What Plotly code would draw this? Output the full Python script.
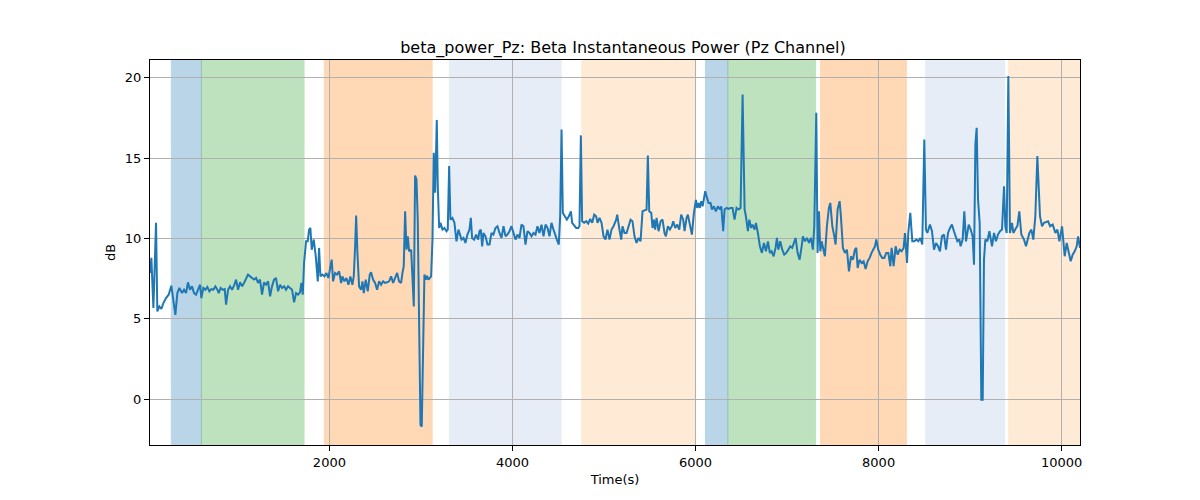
import plotly.graph_objects as go

# ---- data ----
time_s = [
    40, 55, 77, 106, 120, 142, 164, 186, 215, 244, 273, 295, 317, 339, 361, 390, 412, 434, 455, 477,
    499, 521, 543, 565, 587, 601, 623, 645, 667, 689, 710, 732, 754, 776, 791, 812, 834, 856, 871, 893,
    914, 936, 958, 980, 1002, 1024, 1046, 1067, 1089, 1111, 1133, 1155, 1177, 1199, 1220, 1242, 1264, 1286, 1308, 1330,
    1352, 1373, 1395, 1417, 1439, 1461, 1483, 1505, 1526, 1548, 1570, 1592, 1614, 1636, 1658, 1679, 1694, 1709, 1723, 1745,
    1763, 1778, 1792, 1807, 1829, 1851, 1873, 1887, 1902, 1924, 1945, 1967, 1989, 2011, 2025, 2040, 2062, 2084, 2106, 2128,
    2142, 2164, 2186, 2208, 2229, 2251, 2266, 2281, 2292, 2306, 2324, 2346, 2361, 2375, 2397, 2419, 2441, 2455, 2477, 2499,
    2521, 2543, 2565, 2587, 2608, 2630, 2652, 2674, 2696, 2718, 2740, 2761, 2783, 2798, 2812, 2827, 2842, 2856, 2871, 2893,
    2907, 2922, 2936, 2951, 2965, 2980, 2995, 3009, 3024, 3038, 3053, 3067, 3082, 3097, 3111, 3126, 3140, 3155, 3173, 3184,
    3199, 3213, 3235, 3257, 3279, 3293, 3308, 3322, 3344, 3366, 3388, 3410, 3443, 3465, 3486, 3508, 3530, 3545, 3559, 3581,
    3603, 3625, 3639, 3654, 3669, 3683, 3705, 3727, 3749, 3771, 3792, 3814, 3836, 3858, 3880, 3902, 3924, 3945, 3967, 3989,
    4011, 4033, 4055, 4077, 4098, 4120, 4142, 4164, 4186, 4208, 4230, 4251, 4273, 4295, 4317, 4339, 4361, 4383, 4404, 4426,
    4448, 4470, 4485, 4506, 4521, 4536, 4550, 4572, 4594, 4616, 4638, 4652, 4674, 4696, 4718, 4732, 4747, 4761, 4783, 4805,
    4827, 4849, 4871, 4893, 4914, 4929, 4951, 4973, 4995, 5016, 5038, 5060, 5082, 5104, 5133, 5144, 5166, 5188, 5202, 5224,
    5246, 5268, 5290, 5311, 5333, 5355, 5377, 5399, 5421, 5443, 5465, 5479, 5494, 5516, 5530, 5545, 5559, 5574, 5596, 5618,
    5639, 5661, 5676, 5698, 5720, 5741, 5756, 5778, 5800, 5822, 5843, 5865, 5880, 5902, 5916, 5938, 5960, 5982, 6004, 6018,
    6033, 6047, 6062, 6077, 6091, 6106, 6120, 6142, 6164, 6179, 6200, 6222, 6244, 6266, 6281, 6302, 6317, 6339, 6361, 6383,
    6404, 6426, 6448, 6470, 6492, 6514, 6536, 6550, 6572, 6587, 6608, 6623, 6645, 6660, 6681, 6703, 6725, 6747, 6769, 6791,
    6812, 6831, 6853, 6874, 6889, 6904, 6925, 6947, 6969, 6991, 7013, 7035, 7056, 7071, 7093, 7115, 7137, 7159, 7173, 7195,
    7217, 7239, 7261, 7282, 7297, 7319, 7333, 7348, 7363, 7377, 7399, 7413, 7435, 7457, 7472, 7494, 7516, 7530, 7552, 7574,
    7588, 7610, 7632, 7654, 7676, 7698, 7720, 7741, 7756, 7771, 7792, 7814, 7836, 7858, 7880, 7902, 7923, 7945, 7960, 7975,
    7996, 8018, 8040, 8062, 8084, 8106, 8128, 8142, 8164, 8186, 8208, 8230, 8251, 8273, 8288, 8310, 8324, 8346, 8368, 8390,
    8412, 8434, 8456, 8477, 8499, 8517, 8532, 8561, 8583, 8605, 8627, 8649, 8670, 8692, 8714, 8736, 8758, 8780, 8801, 8823,
    8838, 8860, 8882, 8896, 8918, 8936, 8955, 8984, 9006, 9027, 9042, 9057, 9071, 9086, 9104, 9122, 9137, 9151, 9166, 9188,
    9210, 9239, 9261, 9282, 9304, 9326, 9348, 9370, 9384, 9399, 9417, 9435, 9457, 9472, 9501, 9516, 9537, 9559, 9588, 9610,
    9647, 9669, 9690, 9712, 9734, 9763, 9785, 9807, 9851, 9873, 9902, 9931, 9953, 9975, 10004, 10033, 10055, 10077, 10098, 10120,
    10142, 10164, 10179, 10200,
]
beta_db = [
    7.85, 8.79, 5.67, 10.97, 5.46, 5.77, 5.61, 5.98, 6.29, 6.50, 7.06, 6.23, 5.25, 6.60, 6.92, 6.60, 6.81, 6.60, 7.27, 6.81,
    7.02, 6.60, 6.50, 6.81, 7.12, 6.29, 6.92, 6.81, 6.98, 6.71, 6.85, 6.81, 7.02, 6.81, 6.60, 6.92, 6.81, 6.85, 5.88, 6.81,
    7.02, 6.81, 7.06, 7.44, 6.81, 7.27, 7.02, 7.23, 7.54, 7.75, 7.64, 7.54, 7.44, 7.54, 7.23, 7.44, 6.50, 7.27, 7.12, 7.33,
    6.40, 7.02, 7.44, 7.54, 6.71, 7.12, 6.92, 7.02, 6.81, 7.02, 6.92, 6.81, 6.02, 6.60, 6.50, 6.65, 7.23, 6.50, 8.47, 9.82,
    9.82, 10.55, 10.65, 9.30, 9.93, 8.89, 7.33, 9.41, 7.64, 7.75, 7.64, 7.85, 7.54, 8.27, 8.68, 7.33, 7.85, 7.75, 7.95, 7.23,
    7.64, 7.33, 7.54, 7.12, 7.64, 7.12, 7.64, 9.51, 11.42, 9.10, 7.02, 6.81, 7.33, 6.60, 7.44, 6.71, 7.75, 7.89, 7.44, 7.23,
    6.81, 7.33, 7.12, 7.33, 7.23, 7.27, 7.33, 7.64, 7.23, 7.54, 7.85, 7.33, 7.23, 7.85, 8.27, 11.69, 9.30, 10.13, 9.20, 9.30,
    7.85, 5.77, 13.91, 13.67, 11.17, 5.36, -1.60, -1.70, 2.87, 7.75, 7.44, 7.68, 7.44, 7.54, 7.64, 9.93, 15.33, 12.84, 17.36, 13.25,
    10.65, 10.97, 10.55, 10.65, 10.45, 10.55, 14.50, 11.17, 11.28, 10.97, 9.82, 10.55, 9.93, 10.03, 9.72, 10.24, 10.55, 11.28, 10.03, 9.93,
    10.24, 9.93, 10.45, 10.55, 9.51, 10.34, 10.13, 9.62, 9.62, 10.34, 10.24, 10.65, 10.76, 10.34, 10.03, 10.76, 10.13, 10.24, 10.45, 10.76,
    10.34, 9.93, 10.24, 10.03, 10.86, 10.76, 9.62, 10.45, 10.34, 10.13, 10.34, 10.24, 10.76, 10.34, 10.86, 10.13, 10.86, 10.65, 10.13, 10.97,
    10.55, 10.13, 9.93, 9.62, 11.38, 16.78, 11.59, 11.38, 11.17, 11.38, 11.69, 10.97, 10.80, 10.65, 10.65, 10.76, 16.41, 11.07, 10.97, 11.07,
    10.92, 11.21, 10.97, 11.48, 11.38, 10.97, 11.28, 10.97, 10.13, 9.93, 10.55, 9.93, 10.55, 10.76, 11.17, 11.48, 10.65, 9.93, 10.76, 10.34,
    10.34, 10.76, 11.17, 11.07, 10.13, 9.72, 10.03, 9.82, 11.69, 11.75, 11.80, 15.16, 11.69, 11.59, 10.65, 11.17, 10.55, 11.28, 10.45, 11.07,
    11.17, 10.34, 10.13, 10.76, 10.55, 10.76, 11.07, 10.65, 10.86, 10.55, 11.48, 11.17, 10.45, 11.28, 11.48, 10.86, 10.24, 11.59, 12.40, 11.90,
    12.21, 11.90, 12.32, 12.00, 12.42, 12.94, 12.63, 12.21, 12.21, 11.80, 12.00, 11.69, 12.00, 11.80, 12.00, 10.45, 11.80, 11.90, 11.84, 11.90,
    11.90, 11.17, 11.90, 11.80, 11.90, 18.95, 11.80, 11.38, 10.45, 11.17, 10.65, 10.86, 10.55, 10.97, 10.34, 9.51, 9.10, 9.72, 9.20, 9.82,
    9.10, 9.20, 8.89, 9.41, 10.03, 9.30, 9.82, 9.30, 8.99, 9.10, 9.30, 9.51, 9.41, 9.72, 10.03, 9.10, 8.68, 9.51, 10.13, 9.82,
    10.03, 9.72, 10.03, 9.30, 10.76, 17.82, 9.10, 11.69, 9.20, 9.82, 9.10, 8.89, 10.76, 11.90, 12.21, 10.76, 10.13, 9.62, 11.80, 12.32,
    11.38, 9.41, 9.10, 9.30, 7.95, 8.89, 8.68, 9.30, 9.41, 8.16, 8.68, 8.47, 8.58, 8.10, 8.58, 8.79, 9.10, 9.30, 9.51, 9.93,
    9.30, 8.99, 8.79, 8.79, 9.10, 9.10, 8.27, 9.41, 8.27, 9.51, 8.99, 9.30, 9.20, 9.41, 10.34, 8.47, 10.34, 11.59, 9.82, 9.82,
    9.93, 9.82, 10.03, 9.62, 16.16, 10.55, 10.34, 10.86, 10.45, 9.30, 9.72, 9.51, 9.20, 10.13, 10.24, 9.30, 10.34, 10.65, 10.86, 10.45,
    10.13, 9.82, 9.93, 9.51, 9.93, 11.69, 9.82, 10.86, 10.55, 10.13, 8.37, 15.85, 16.88, 12.42, 10.97, -0.04, -0.04, 8.68, 9.93, 9.82,
    10.45, 9.51, 10.34, 9.82, 10.24, 10.45, 10.55, 13.25, 10.76, 10.34, 20.10, 10.34, 10.97, 10.34, 10.65, 10.76, 11.69, 10.24, 9.93, 9.51,
    10.34, 10.55, 9.93, 11.38, 15.12, 11.38, 10.76, 10.97, 11.07, 10.76, 10.86, 10.34, 10.55, 9.82, 10.76, 8.89, 9.72, 9.10, 8.58, 8.99,
    9.20, 9.51, 10.13, 9.41,
]

# shaded intervals (start, end, colour)
span_start = [273, 601, 1945, 3311, 4758, 6109, 6353, 7366, 8514, 9421]
span_end = [601, 1723, 3122, 4532, 6000, 6353, 7311, 8303, 9377, 10400]
span_color = ["#1f77b4", "#2ca02c", "#ff7f0e", "#aec7e8", "#ffbb78",
              "#1f77b4", "#2ca02c", "#ff7f0e", "#aec7e8", "#ffbb78"]

fig = go.Figure()

for s, e, c in zip(span_start, span_end, span_color):
    fig.add_vrect(x0=s, x1=e, fillcolor=c, opacity=0.3, layer="below",
                  line=dict(color=c, width=1))

fig.add_trace(go.Scatter(x=time_s, y=beta_db, mode="lines",
                         line=dict(color="#1f77b4", width=2), showlegend=False))

axis_style = dict(showline=True, linecolor="black", linewidth=1, mirror=True,
                  ticks="outside", ticklen=5, tickcolor="black",
                  showgrid=True, gridcolor="#b0b0b0", gridwidth=1, zeroline=False,
                  tickfont=dict(size=13, color="black"))

fig.update_xaxes(range=[40, 10200], tickvals=[2000, 4000, 6000, 8000, 10000],
                 ticktext=["2000", "4000", "6000", "8000", "10000"],
                 title=dict(text="Time(s)", font=dict(size=13, color="black"), standoff=6),
                 **axis_style)
fig.update_yaxes(range=[-2.85, 21.1], tickvals=[0, 5, 10, 15, 20],
                 title=dict(text="dB", font=dict(size=13, color="black"), standoff=6),
                 **axis_style)

# the page body adds an 8px offset, so margins are trimmed by that much
fig.update_layout(
    width=1200, height=500,
    margin=dict(l=142, r=128, t=52, b=63),
    plot_bgcolor="white", paper_bgcolor="white",
    font=dict(family="DejaVu Sans", color="black"),
    title=dict(text="beta_power_Pz: Beta Instantaneous Power (Pz Channel)",
               x=0.5125, xanchor="center", y=0.922, yanchor="middle",
               font=dict(size=16, color="black")),
)

fig.write_html("out.html")
